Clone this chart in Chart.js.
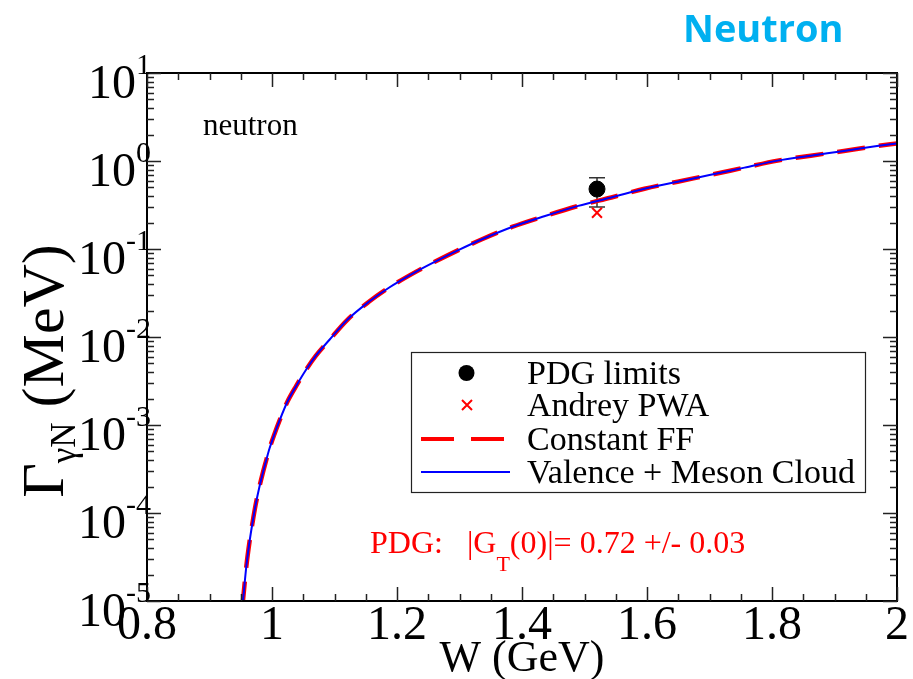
<!DOCTYPE html>
<html><head><meta charset="utf-8">
<script src="https://cdn.jsdelivr.net/npm/chart.js@4.4.0/dist/chart.umd.min.js"></script>
<style>html,body{margin:0;padding:0;background:#fff;}#wrap{width:913px;height:679px;position:relative;}</style>
</head><body><div id="wrap"><canvas id="c" width="913" height="679"></canvas></div>
<script>
// ---- data ----
const wGrid = [0.952,0.9535,0.959,0.964,0.969,0.974,0.980,0.985,0.990,0.996,1.004,1.012,1.025,1.039,1.055,1.070,1.092,1.121,1.155,1.187,1.230,1.262,1.299,1.336,1.384,1.437,1.490,1.543,1.596,1.649,1.700,1.756,1.809,1.862,1.915,1.968,2.000];
const constantFF = [8.0e-6,1.0e-5,2.5e-5,4.7e-5,7.9e-5,1.26e-4,2.0e-4,2.8e-4,3.8e-4,5.4e-4,7.9e-4,1.12e-3,1.86e-3,2.8e-3,4.3e-3,6.1e-3,9.3e-3,0.0158,0.0251,0.0363,0.055,0.0724,0.0977,0.129,0.178,0.237,0.309,0.385,0.484,0.582,0.692,0.841,1.01,1.15,1.30,1.48,1.585];
const valenceMesonCloud = [8.0e-6,1.0e-5,2.5e-5,4.7e-5,7.9e-5,1.26e-4,2.0e-4,2.8e-4,3.8e-4,5.4e-4,7.9e-4,1.12e-3,1.86e-3,2.8e-3,4.3e-3,6.1e-3,9.3e-3,0.0158,0.0251,0.0363,0.055,0.0724,0.0977,0.129,0.178,0.237,0.309,0.385,0.484,0.582,0.692,0.841,1.01,1.15,1.30,1.48,1.585];
const pdgW = [1.52];
const pdgValue = [0.48];
const pdgErrLow = [0.30];
const pdgErrHigh = [0.645];
const pwaW = [1.52];
const pwaValue = [0.258];
const xTickValues = [0.8,1.0,1.2,1.4,1.6,1.8,2.0];
const xTickLabels = ['0.8','1','1.2','1.4','1.6','1.8','2'];
const xMinorTicks = [0.85,0.9,0.95,1.05,1.1,1.15,1.25,1.3,1.35,1.45,1.5,1.55,1.65,1.7,1.75,1.85,1.9,1.95];
const yDecades = [-5,-4,-3,-2,-1,0,1];
const yMinorMultipliers = [2,3,4,5,6,7,8,9];
const legendLabels = ['PDG limits','Andrey PWA','Constant FF','Valence + Meson Cloud'];

const SERIF = '"Liberation Serif","DejaVu Serif",serif';

const toXY = (xs, ys) => xs.map((x,i)=>({x:x, y:ys[i]}));

const decor = {
  id:'decor',
  beforeDatasetsDraw(chart){
    const ctx = chart.ctx, xs = chart.scales.x, ys = chart.scales.y;
    ctx.save();
    ctx.strokeStyle = '#333'; ctx.lineWidth = 1.5;
    pdgW.forEach((w,i)=>{
      const px = xs.getPixelForValue(w);
      const yt = ys.getPixelForValue(pdgErrHigh[i]);
      const yb = ys.getPixelForValue(pdgErrLow[i]);
      ctx.beginPath();
      ctx.moveTo(px,yt); ctx.lineTo(px,yb);
      ctx.moveTo(px-8,yt); ctx.lineTo(px+8,yt);
      ctx.moveTo(px-8,yb); ctx.lineTo(px+8,yb);
      ctx.stroke();
    });
    ctx.restore();
  },
  afterDraw(chart){
    const ctx = chart.ctx, xs = chart.scales.x, ys = chart.scales.y, a = chart.chartArea;
    ctx.save();
    // frame
    ctx.strokeStyle = '#000'; ctx.lineWidth = 2;
    ctx.strokeRect(a.left, a.top, a.right-a.left, a.bottom-a.top);
    // ticks
    ctx.lineWidth = 1.5; ctx.strokeStyle = '#222';
    ctx.beginPath();
    const tickX = (v,len)=>{const p=Math.round(xs.getPixelForValue(v))+0.5; ctx.moveTo(p,a.bottom); ctx.lineTo(p,a.bottom-len); ctx.moveTo(p,a.top); ctx.lineTo(p,a.top+len);};
    const tickY = (v,len)=>{const p=Math.round(ys.getPixelForValue(v))+0.5; ctx.moveTo(a.left,p); ctx.lineTo(a.left+len,p); ctx.moveTo(a.right,p); ctx.lineTo(a.right-len,p);};
    xTickValues.forEach(v=>tickX(v,14));
    xMinorTicks.forEach(v=>tickX(v,7));
    yDecades.forEach(d=>{
      tickY(Math.pow(10,d),14);
      if(d<1) yMinorMultipliers.forEach(m=>tickY(m*Math.pow(10,d),7));
    });
    ctx.stroke();
    // y tick labels 10^n
    ctx.fillStyle = '#000'; ctx.textBaseline = 'alphabetic';
    yDecades.forEach(d=>{
      const p = ys.getPixelForValue(Math.pow(10,d));
      const sup = d<0 ? '-'+(-d) : String(d);
      ctx.font = '30px '+SERIF;
      const sw = ctx.measureText(sup).width;
      const right = a.left+4;
      ctx.textAlign='left';
      ctx.fillText(sup, right-sw, p+1);
      ctx.font = '48px '+SERIF;
      ctx.textAlign='right';
      ctx.fillText('10', right-sw, p+25);
    });
    // y axis title, rotated
    ctx.save();
    ctx.translate(63, 371);
    ctx.rotate(-Math.PI/2);
    ctx.textAlign='left';
    const g='\u0393', rest=' (MeV)';
    ctx.font = '60px '+SERIF; const gw = ctx.measureText(g).width;
    ctx.font = '35px '+SERIF; const sbw = ctx.measureText('\u03B3N').width;
    ctx.font = '60px '+SERIF; const rw = ctx.measureText(rest).width;
    let x0 = -(gw+sbw+rw)/2;
    ctx.font = '60px '+SERIF; ctx.fillText(g, x0, 0); x0+=gw;
    ctx.font = '35px '+SERIF; ctx.fillText('\u03B3N', x0, 12); x0+=sbw;
    ctx.font = '60px '+SERIF; ctx.fillText(rest, x0, 0);
    ctx.restore();
    // "neutron" label
    ctx.textAlign='left';
    ctx.font = '31px '+SERIF; ctx.fillStyle='#000';
    ctx.fillText('neutron', 203, 135);
    // Neutron header
    ctx.font = 'bold 38px "Open Sans",sans-serif'; ctx.fillStyle='#00B0F0';
    ctx.fillText('Neutron', 683, 42);
    // PDG annotation
    ctx.fillStyle='#FF0000';
    let px = 370; const by = 553;
    ctx.font = '32px '+SERIF;
    const t1 = 'PDG:   |G'; ctx.fillText(t1, px, by); px += ctx.measureText(t1).width;
    ctx.font = '22px '+SERIF; ctx.fillText('T', px, by+18); px += ctx.measureText('T').width;
    ctx.font = '32px '+SERIF; ctx.fillText('(0)|= 0.72 +/- 0.03', px, by);
    // legend
    ctx.strokeStyle='#222'; ctx.lineWidth=1.2;
    ctx.strokeRect(411.5, 352.5, 454, 140);
    const rows=[373,405,439,472];
    ctx.font = '34px '+SERIF; ctx.fillStyle='#000';
    legendLabels.forEach((t,i)=>ctx.fillText(t, 527, rows[i]+11));
    // legend symbols
    ctx.beginPath(); ctx.fillStyle='#000'; ctx.arc(466.5, rows[0], 8, 0, Math.PI*2); ctx.fill();
    ctx.strokeStyle='#FF0000'; ctx.lineWidth=2;
    ctx.beginPath(); ctx.moveTo(462,rows[1]-5); ctx.lineTo(472,rows[1]+5); ctx.moveTo(472,rows[1]-5); ctx.lineTo(462,rows[1]+5); ctx.stroke();
    ctx.lineWidth=4; ctx.setLineDash([33,17]);
    ctx.beginPath(); ctx.moveTo(421,rows[2]); ctx.lineTo(510,rows[2]); ctx.stroke();
    ctx.setLineDash([]); ctx.strokeStyle='#0000FF'; ctx.lineWidth=2;
    ctx.beginPath(); ctx.moveTo(421,rows[3]); ctx.lineTo(510,rows[3]); ctx.stroke();
    ctx.restore();
  }
};

new Chart(document.getElementById('c'), {
  type:'scatter',
  data:{datasets:[
    {label:legendLabels[0], data:toXY(pdgW,pdgValue), pointStyle:'circle', pointRadius:8, backgroundColor:'#000', borderColor:'#000', order:1},
    {label:legendLabels[1], data:toXY(pwaW,pwaValue), pointStyle:'crossRot', pointRadius:7, borderColor:'#FF0000', borderWidth:2, order:2},
    {label:legendLabels[2], data:toXY(wGrid,constantFF), showLine:true, borderColor:'#FF0000', borderWidth:4.5, borderDash:[28,14], pointRadius:0, cubicInterpolationMode:'monotone', order:4},
    {label:legendLabels[3], data:toXY(wGrid,valenceMesonCloud), showLine:true, borderColor:'#0000FF', borderWidth:2, pointRadius:0, cubicInterpolationMode:'monotone', order:3}
  ]},
  options:{
    responsive:false, devicePixelRatio:1, animation:false,
    layout:{padding:{left:147,right:13,top:73,bottom:0}},
    plugins:{legend:{display:false}, tooltip:{enabled:false}},
    scales:{
      x:{type:'linear', min:0.8, max:2.0,
        grid:{display:false, drawTicks:false}, border:{display:false},
        afterBuildTicks:(s)=>{s.ticks = xTickValues.map(v=>({value:v}));},
        afterFit:(s)=>{s.height = 78;},
        ticks:{autoSkip:false, maxRotation:0, padding:4, color:'#000', font:{family:SERIF, size:48, lineHeight:0.9},
          callback:(v)=>{const i = xTickValues.findIndex(t=>Math.abs(t-v)<1e-9); return i>=0?xTickLabels[i]:'';}},
        title:{display:true, text:'W (GeV)', color:'#000', font:{family:SERIF, size:44, lineHeight:1}, padding:{top:0,bottom:-2}}
      },
      y:{type:'logarithmic', min:1e-5, max:10, display:false}
    }
  },
  plugins:[decor]
});
</script></body></html>
